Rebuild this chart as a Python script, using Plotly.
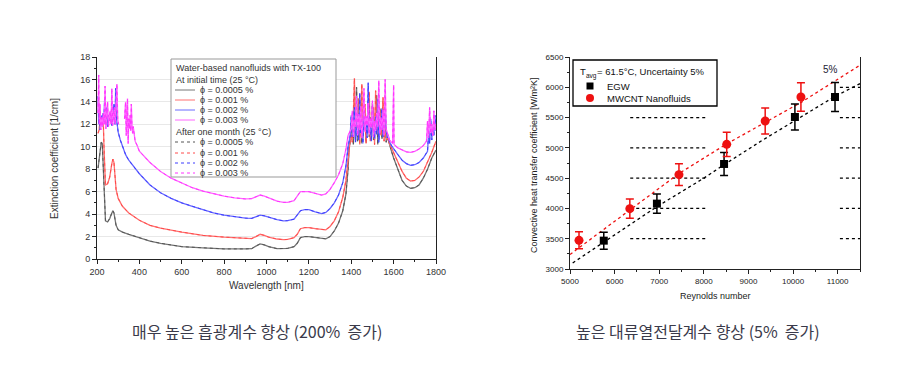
import plotly.graph_objects as go

W, H = 900, 384
def px(x):
    return x / W
def py(y):
    return 1 - y / H

# ---------------- Left chart data (extinction spectra) ----------------
noise_wl = [1400 + 5 * i for i in range(35)]

blk_x = [205, 210, 215, 220, 225, 230, 235, 240, 250, 260, 270, 275, 280, 290, 300, 320, 350, 400, 450, 500,
         600, 700, 800, 900, 930, 950, 970, 990, 1010, 1050, 1080, 1100, 1130, 1145, 1160, 1180, 1200, 1230,
         1260, 1280, 1300, 1320, 1340, 1360, 1375, 1385, 1390, 1395]
blk_y = [8.1, 8.8, 9.8, 10.4, 10.3, 8.0, 4.2, 3.4, 3.3, 3.6, 4.1, 4.3, 4.1, 3.0, 2.6, 2.4, 2.2, 1.9, 1.6, 1.4,
         1.1, 1.0, 0.9, 0.9, 0.92, 1.15, 1.35, 1.25, 1.1, 0.92, 0.9, 0.95, 1.1, 1.4, 1.9, 2.0, 2.0, 1.9,
         1.8, 1.8, 2.0, 2.5, 3.2, 4.3, 5.8, 8.0, 10.0, 10.5]
blk_noise = [10.8, 12.5, 10.2, 13.6, 11.0, 15.3, 10.5, 12.2, 11.4, 14.0, 10.3, 12.8, 11.6, 13.2, 10.4, 12.0,
             14.2, 10.9, 12.6, 11.2, 13.9, 10.6, 12.3, 11.8, 14.6, 10.2, 12.9, 11.3, 13.4, 10.7, 12.1, 11.5,
             13.0, 10.4, 11.2]
blk_tail_x = [1575, 1580, 1590, 1600, 1620, 1640, 1660, 1680, 1700, 1720, 1740, 1760, 1780, 1790, 1800]
blk_tail_y = [10.6, 10.2, 9.6, 9.0, 7.9, 7.0, 6.5, 6.3, 6.35, 6.6, 7.2, 8.0, 9.0, 9.4, 9.7]

red_x = [205, 210, 215, 220, 225, 230, 233, 236, 240, 250, 260, 270, 275, 280, 285, 290, 300, 320, 350, 400,
         450, 500, 600, 700, 800, 900, 930, 950, 970, 990, 1010, 1050, 1080, 1100, 1130, 1145, 1160, 1180,
         1200, 1230, 1260, 1280, 1300, 1320, 1340, 1360, 1375, 1385, 1390, 1395]
red_y = [11.2, 11.5, 12.5, 12.2, 12.5, 12.0, 10.0, 7.5, 6.6, 6.7, 7.3, 8.5, 8.9, 8.6, 7.5, 6.2, 5.4, 4.7, 4.1,
         3.45, 3.0, 2.75, 2.4, 2.1, 1.95, 1.8, 1.82, 2.0, 2.2, 2.1, 1.95, 1.78, 1.72, 1.75, 1.9, 2.2, 2.7,
         2.8, 2.8, 2.7, 2.6, 2.6, 2.9, 3.4, 4.2, 5.5, 7.0, 9.0, 10.2, 10.6]
red_noise = [11.2, 10.4, 13.0, 16.1, 10.6, 12.4, 11.1, 14.3, 10.2, 12.7, 15.6, 10.8, 11.9, 13.8, 10.3, 12.5,
             11.4, 14.9, 10.5, 12.1, 11.7, 13.5, 10.2, 15.0, 11.3, 12.6, 10.6, 13.3, 11.0, 12.2, 14.4, 10.5,
             11.8, 10.9, 10.6]
red_tail_x = [1575, 1580, 1590, 1600, 1620, 1640, 1660, 1680, 1700, 1720, 1740, 1760, 1780, 1790, 1800]
red_tail_y = [10.8, 10.3, 9.9, 9.5, 8.6, 7.8, 7.2, 6.95, 7.0, 7.3, 7.8, 8.6, 9.5, 10.0, 10.5]

blu_x = [205, 208, 212, 215, 220, 225, 228, 232, 236, 240, 245, 250, 255, 260, 265, 270, 275, 280, 285, 288,
         292, 295, 300, 310, 320, 335, 350, 375, 400, 450, 500, 550, 600, 650, 700, 750, 800, 850, 900, 930,
         950, 970, 990, 1010, 1050, 1080, 1100, 1130, 1145, 1160, 1180, 1200, 1230, 1260, 1280, 1300, 1320,
         1340, 1360, 1375, 1385, 1395]
blu_y = [14.5, 12.0, 13.5, 11.5, 12.8, 11.8, 13.0, 12.2, 14.2, 12.0, 13.5, 11.8, 12.8, 12.3, 13.0, 11.9, 12.5,
         13.8, 12.0, 15.2, 12.5, 12.0, 11.3, 10.6, 10.0, 9.3, 8.8, 8.2, 7.6, 6.6, 5.9, 5.4, 5.0, 4.7, 4.4,
         4.1, 3.9, 3.75, 3.65, 3.62, 3.75, 3.9, 3.85, 3.72, 3.5, 3.4, 3.42, 3.55, 3.9, 4.3, 4.4, 4.4, 4.2,
         4.05, 4.15, 4.5, 5.0, 5.7, 6.8, 8.3, 10.0, 11.0]
blu_noise = [12.8, 10.9, 12.1, 13.5, 10.4, 11.8, 12.9, 10.6, 14.8, 11.2, 12.4, 10.3, 13.1, 11.7, 12.5, 10.8,
             15.7, 11.3, 12.2, 10.5, 13.6, 11.9, 10.7, 12.7, 11.1, 14.2, 10.4, 12.3, 11.6, 13.4, 10.9, 12.0,
             13.7, 11.4, 10.8]
blu_tail_x = [1575, 1580, 1590, 1600, 1620, 1640, 1660, 1680, 1700, 1720, 1740, 1760, 1765, 1770, 1775, 1780,
              1785, 1790, 1795, 1800]
blu_tail_y = [11.0, 10.5, 10.1, 9.8, 9.3, 8.8, 8.5, 8.35, 8.4, 8.6, 9.0, 9.6, 11.2, 10.3, 12.5, 10.6, 11.8,
              11.0, 12.8, 11.4]

mag_x = [205, 208, 211, 214, 218, 222, 226, 230, 234, 238, 242, 246, 250, 254, 258, 262, 266, 270, 274, 278,
         282, 286, 290, 294, 298, 302, 305, 330, 335, 338, 341, 344, 347, 350, 353, 356, 359, 362, 365, 368,
         371, 375, 380, 390, 400, 450, 500, 550, 600, 650, 700, 750, 800, 850, 900, 930, 950, 970, 990, 1010,
         1050, 1080, 1100, 1130, 1145, 1160, 1180, 1200, 1230, 1260, 1280, 1300, 1320, 1340, 1360, 1375,
         1385, 1395]
mag_y = [13.0, 16.4, 12.0, 13.8, 11.5, 12.6, 11.8, 13.0, 12.0, 15.4, 11.6, 12.5, 14.0, 11.8, 12.4, 13.2, 12.0,
         15.2, 11.9, 12.6, 13.5, 12.0, 14.8, 15.6, 12.4, 12.0, None, 12.5, 14.0, 11.0, 12.2, 14.3, 10.3, 12.5,
         11.6, 12.8, 11.4, 13.8, 12.0, 11.2, 11.8, 10.9, 10.5, 10.1, 9.6, 8.6, 7.8, 7.2, 6.75, 6.35, 6.05,
         5.8, 5.6, 5.45, 5.35, 5.38, 5.55, 5.7, 5.6, 5.45, 5.15, 5.05, 5.05, 5.2, 5.6, 6.0, 6.0, 6.0, 5.85,
         5.7, 5.8, 6.2, 6.8, 7.5, 8.5, 9.8, 11.0, 11.5]
mag_noise = [11.6, 13.2, 10.9, 12.4, 11.8, 14.5, 11.0, 12.9, 11.5, 13.6, 10.8, 12.2, 15.2, 11.3, 12.7, 11.9,
             13.9, 11.1, 12.5, 11.7, 14.1, 10.9, 12.3, 11.4, 13.0, 11.8, 15.9, 11.2, 12.6, 11.5, 13.3, 11.0,
             16.0, 11.6, 11.2]
mag_tail_x = [1575, 1580, 1590, 1595, 1600, 1602, 1620, 1640, 1660, 1680, 1700, 1720, 1740, 1755, 1760, 1765,
              1770, 1775, 1780, 1785, 1790, 1795, 1800]
mag_tail_y = [10.9, 10.6, 10.4, 10.3, 15.5, 10.2, 9.9, 9.7, 9.55, 9.5, 9.6, 9.8, 10.1, 10.5, 12.3, 10.8, 13.5,
              11.2, 12.0, 11.0, 13.2, 11.5, 12.0]

conc_labels = ["0.0005 %", "0.001 %", "0.002 %", "0.003 %"]

# ---------------- Right chart data (heat transfer) ----------------
egw_re = [5757, 6948, 8453, 10041, 10940]
egw_h = [3468, 4079, 4734, 5510, 5840]
egw_err = [140, 160, 190, 215, 240]

cnt_re = [5202, 6341, 7442, 8513, 9375, 10176]
cnt_h = [3473, 3996, 4557, 5058, 5443, 5840]
cnt_err = [140, 160, 180, 200, 215, 235]

cnt_fit_re = [5000, 5800, 6350, 7450, 8500, 9400, 10200, 11500]
cnt_fit_h = [3240, 3680, 3990, 4580, 5060, 5430, 5760, 6365]
egw_fit_re = [5060, 5770, 6950, 8000, 8450, 9300, 10050, 10940, 11500]
egw_fit_h = [3100, 3450, 4030, 4500, 4720, 5120, 5460, 5850, 6060]

mid_seg_levels = [3500, 4000, 4500, 5000, 5500]
mid_seg_re = [6350, 8050]
right_seg_levels = [3500, 4000, 4500, 5000, 5500, 6000]
right_seg_re = [11050, 11500]

FONT = "Liberation Sans, Arial, sans-serif"
fig = go.Figure()

series = [
    ("#555555", "#777777", blk_x, blk_y, blk_noise, blk_tail_x, blk_tail_y),
    ("#ff4a4a", "#ff7070", red_x, red_y, red_noise, red_tail_x, red_tail_y),
    ("#3c3cff", "#6a6aff", blu_x, blu_y, blu_noise, blu_tail_x, blu_tail_y),
    ("#ff33ff", "#ff66ff", mag_x, mag_y, mag_noise, mag_tail_x, mag_tail_y),
]
for i, (c, c2, xs, ys, nz, tx, ty) in enumerate(series):
    X = xs + noise_wl + tx
    Y = ys + nz + ty
    fig.add_trace(go.Scatter(x=X, y=Y, mode="lines", line=dict(color=c2, width=1.3),
                             name="φ = " + conc_labels[i] + " (initial)", showlegend=False,
                             xaxis="x", yaxis="y", connectgaps=False))
    fig.add_trace(go.Scatter(x=X, y=Y, mode="lines", line=dict(color=c, width=1, dash="dot"),
                             name="φ = " + conc_labels[i] + " (one month)", showlegend=False,
                             xaxis="x", yaxis="y", connectgaps=False))

def segs(levels, xr):
    X, Y = [], []
    for lv in levels:
        X += [xr[0], xr[1], None]
        Y += [lv, lv, None]
    return X, Y
sx, sy = segs(mid_seg_levels, mid_seg_re)
fig.add_trace(go.Scatter(x=sx, y=sy, mode="lines", line=dict(color="black", width=1.2, dash="dot"),
                         showlegend=False, xaxis="x2", yaxis="y2", hoverinfo="skip"))
sx, sy = segs(right_seg_levels, right_seg_re)
fig.add_trace(go.Scatter(x=sx, y=sy, mode="lines", line=dict(color="black", width=1.2, dash="dot"),
                         showlegend=False, xaxis="x2", yaxis="y2", hoverinfo="skip"))

fig.add_trace(go.Scatter(x=egw_fit_re, y=egw_fit_h, mode="lines", line=dict(color="black", width=1.3, dash="dot"),
                         showlegend=False, xaxis="x2", yaxis="y2"))
fig.add_trace(go.Scatter(x=cnt_fit_re, y=cnt_fit_h, mode="lines", line=dict(color="#ee1111", width=1.3, dash="dot"),
                         showlegend=False, xaxis="x2", yaxis="y2"))

fig.add_trace(go.Scatter(x=egw_re, y=egw_h, mode="markers", name="EGW",
                         marker=dict(symbol="square", size=8, color="black"),
                         error_y=dict(type="data", array=egw_err, color="black", thickness=1.5, width=4),
                         showlegend=False, xaxis="x2", yaxis="y2"))
fig.add_trace(go.Scatter(x=cnt_re, y=cnt_h, mode="markers", name="MWCNT Nanofluids",
                         marker=dict(symbol="circle", size=9, color="#ee1111"),
                         error_y=dict(type="data", array=cnt_err, color="#ee1111", thickness=1.5, width=4),
                         showlegend=False, xaxis="x2", yaxis="y2"))

axis_common = dict(showline=True, linecolor="#222", linewidth=1, ticks="outside", tickcolor="#222",
                   zeroline=False, ticklen=4, automargin=False, tickformat="d")
fig.update_layout(
    template="none",
    width=W, height=H, margin=dict(l=0, r=0, t=0, b=0, pad=0, autoexpand=False),
    paper_bgcolor="white", plot_bgcolor="white", showlegend=False,
    font=dict(family=FONT, color="#333"),
    xaxis=dict(domain=[px(89), px(428)], anchor="y", range=[200, 1800], dtick=200, tick0=200,
               showgrid=False, tickfont=dict(size=9, color="#333"), mirror=False,
               minor=dict(dtick=100, ticks="outside", ticklen=2, tickcolor="#222"), **axis_common),
    yaxis=dict(domain=[py(251), py(49)], anchor="x", range=[0, 18], dtick=2,
               showgrid=True, gridcolor="#e8e8e8", gridwidth=1, tickfont=dict(size=9, color="#333"), mirror=True,
               minor=dict(dtick=1, ticks="outside", ticklen=2, tickcolor="#222", showgrid=False), **axis_common),
    xaxis2=dict(domain=[px(562), px(852)], anchor="y2", range=[5000, 11500], dtick=1000, tick0=5000,
                showgrid=False, tickfont=dict(size=8, color="#222"), mirror=False,
                minor=dict(dtick=500, ticks="outside", ticklen=2, tickcolor="#222"), **axis_common),
    yaxis2=dict(domain=[py(261), py(49)], anchor="x2", range=[3000, 6500], dtick=500,
                showgrid=False, tickfont=dict(size=8, color="#222"), mirror=True,
                minor=dict(dtick=250, ticks="outside", ticklen=2, tickcolor="#222"), **axis_common),
)

ann = []
shapes = []
def text(x, y, s, size, xanchor="center", color="#333", angle=0, family=FONT):
    ann.append(dict(x=px(x), y=py(y), xref="paper", yref="paper", text=s, showarrow=False,
                    xanchor=xanchor, yanchor="middle", textangle=angle,
                    font=dict(size=size, color=color, family=family)))

text(258, 277, "Wavelength [nm]", 10)
text(46, 151, "Extinction coefficient [1/cm]", 10, angle=-90)
text(707, 288, "Reynolds number", 9, color="#222")
text(526, 158, "Convective heat transfer coefficient [W/m²K]", 9, angle=-90, color="#222")

shapes.append(dict(type="rect", xref="paper", yref="paper", x0=px(163), x1=px(328), y0=py(169), y1=py(51),
                   line=dict(color="#999", width=1), fillcolor="white", layer="above"))
text(166, 60, "Water-based nanofluids with TX-100", 9, xanchor="left")
text(166, 72, "At initial time (25 °C)", 9, xanchor="left")
text(166, 124, "After one month (25 °C)", 9, xanchor="left")
rows1 = [82, 92, 102, 112]
rows2 = [134, 145, 155, 165]
for i, (c, c2, *_r) in enumerate(series):
    for rows, col, dash in ((rows1, c2, "solid"), (rows2, c, "dot")):
        yy = rows[i]
        shapes.append(dict(type="line", xref="paper", yref="paper", x0=px(167), x1=px(187),
                           y0=py(yy), y1=py(yy), line=dict(color=col, width=1, dash=dash), layer="above"))
        text(190, yy, "ϕ = " + conc_labels[i], 9, xanchor="left")

shapes.append(dict(type="rect", xref="paper", yref="paper", x0=px(565), x1=px(709), y0=py(98), y1=py(52),
                   line=dict(color="black", width=1.3), fillcolor="white", layer="above"))
text(570, 64, "T", 9.5, xanchor="left", color="#111")
text(576, 67.5, "avg", 6.5, xanchor="left", color="#111")
text(587, 64, "= 61.5°C, Uncertainty 5%", 9.5, xanchor="left", color="#111")
shapes.append(dict(type="rect", xref="paper", yref="paper", x0=px(578.5), x1=px(585.5), y0=py(81.5), y1=py(74.5),
                   line=dict(width=0), fillcolor="black", layer="above"))
text(597, 78, "EGW", 9.5, xanchor="left", color="#111")
shapes.append(dict(type="circle", xref="paper", yref="paper", x0=px(578), x1=px(586), y0=py(94), y1=py(86),
                   line=dict(width=0), fillcolor="#ee1111", layer="above"))
text(597, 90, "MWCNT Nanofluids", 9.5, xanchor="left", color="#111")

ann.append(dict(x=10830, y=6290, xref="x2", yref="y2", text="5%", showarrow=False,
                font=dict(size=10, color="#223", family=FONT)))

CJK = "Noto Sans CJK KR, Noto Sans CJK SC, sans-serif"
text(249, 323, "매우 높은 흡광계수 향상 (200%  증가)", 16, color="#3a3a4a", family=CJK)
text(690, 323, "높은 대류열전달계수 향상 (5%  증가)", 16, color="#3a3a4a", family=CJK)

fig.update_layout(annotations=ann, shapes=shapes)
fig.write_html("out.html")
